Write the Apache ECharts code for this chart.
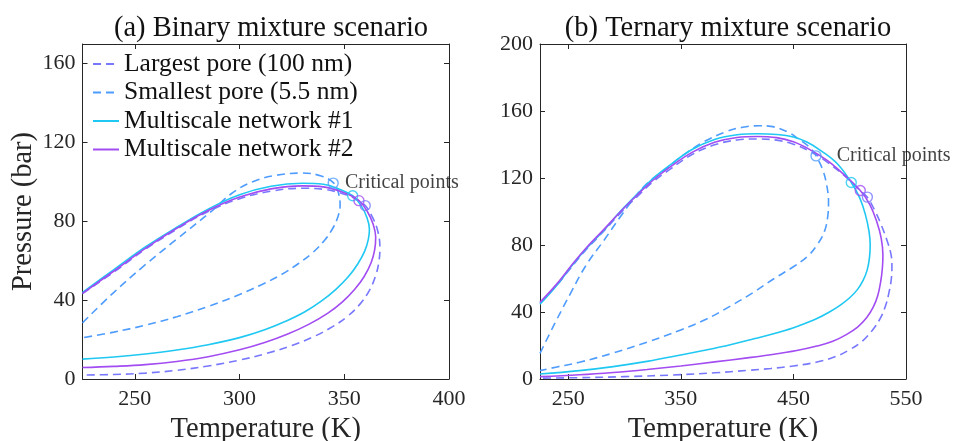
<!DOCTYPE html>
<html><head><meta charset="utf-8">
<script src="https://cdn.jsdelivr.net/npm/echarts@6/dist/echarts.min.js"></script>
<style>html,body{margin:0;padding:0;background:#fff}#c{width:959px;height:441px}</style>
</head><body><div id="c"></div>
<script>
// ---- Data (Temperature K, Pressure bar) ----
const seriesNames = ['Largest pore (100 nm)', 'Smallest pore (5.5 nm)', 'Multiscale network #1', 'Multiscale network #2'];
const titles = ['(a) Binary mixture scenario', '(b) Ternary mixture scenario'];
const xName = 'Temperature (K)';
const yName = 'Pressure (bar)';
const critLabel = 'Critical points';

const binaryXTicks = [250, 300, 350, 400];
const binaryYTicks = [0, 40, 80, 120, 160];
const ternaryXTicks = [250, 350, 450, 550];
const ternaryYTicks = [0, 40, 80, 120, 160, 200];

const binaryLargest = [[225,43.3],[240,54.3],[255,65.8],[270,76],[285,85],[300,91.5],[315,95.3],[330,96.8],[340,96.3],[350,93.8],[356,91],[360,88],[363.5,82],[366,75],[367,67],[366.6,60],[365,52.5],[362,45],[357.5,38],[351.5,31.8],[344,26.3],[335,21.3],[325,17],[313,13],[300,9.6],[285,6.6],[270,4.4],[255,3],[240,2.3],[225,2]];
const binarySmallest = [[225,28.5],[240,44],[255,58],[270,71],[287,85.5],[296,94],[306,100],[317,103.3],[330,104.5],[339,103],[345,99.4],[347.3,94],[348,88],[347,82.5],[344.5,76.5],[340.5,70.3],[335,64.2],[328,58.5],[320,53],[310,47.6],[298,42],[285,36.8],[270,31.6],[255,27.3],[240,23.8],[225,20.9]];
const binaryMS1 = [[225,44],[240,55.5],[255,67],[270,77],[285,86.2],[300,93.5],[315,97.8],[330,99.3],[340,98.8],[348,96.2],[354,93],[358,88],[360.8,82],[362,76],[361.5,71],[359.8,65],[356.5,58.5],[352,52],[346,45.5],[339,39.5],[331,34],[322,29.3],[312,25],[300,21],[285,17.4],[270,14.7],[255,12.7],[240,11.2],[225,10.1]];
const binaryMS2 = [[225,43.5],[240,54.8],[255,66.3],[270,76.5],[285,85.5],[300,92.3],[315,96.5],[330,98],[340,97.5],[350,94.5],[357,90.5],[361,85],[363.8,78.5],[365,72],[364.5,65.5],[362.8,59],[359.5,52],[355,45.5],[349,39],[342,33.3],[333,27.7],[323,22.8],[312,18.5],[300,14.8],[285,11.3],[270,8.9],[255,7.3],[240,6.4],[225,5.8]];
const binaryCritical = [[344.7,99.4],[354,93],[357,90.5],[360,88]];

const ternaryLargest = [[225,45.3],[240,56],[252,66],[265,76.5],[282,88.5],[297,99.5],[311.5,109],[325,117.5],[340,125],[360,134],[380,139.8],[400,142.7],[418,143.3],[435,142.6],[450,140.2],[465,135.8],[480,129.5],[495,121.5],[507,114],[515.5,108.6],[522,101],[528,92],[533,83],[536.5,75],[537.5,68],[537,60],[535,52],[532,44],[527,36],[520,29],[511,22.5],[500,17.5],[488,13.5],[470,10],[450,7.8],[430,6.3],[409,5.1],[380,3.7],[350,2.6],[300,1.4],[260,0.8],[225,0.5]];
const ternarySmallest = [[225,15.3],[238,33],[252,51],[266,68],[282,83],[297,97.5],[311.5,110.5],[323,118.5],[335,124.5],[344,129.5],[352,133.5],[370,141.5],[391,147.8],[405,150.3],[420,151.2],[430,150.8],[445,147.5],[453,144],[465,138],[470.1,133.2],[476,125],[479.5,116],[481.2,106],[480.5,97],[477.5,88],[471,80],[463,73.5],[450,67],[433,60],[414,51.5],[394,43.5],[372,35.5],[350,29.3],[320,22],[290,15.5],[260,10],[240,7.2],[225,5]];
const ternaryMS1 = [[225,44.6],[240,56],[252,66.5],[265,77],[282,89],[297,100.5],[311.5,110.5],[325,119.5],[340,127.5],[360,137],[380,143],[400,145.8],[418,146.4],[435,146],[450,144.5],[462,141.5],[474,136.5],[489,128.5],[501.4,117.3],[509,108],[514,98],[517.2,88],[518.2,80],[517.5,72],[515.5,65],[512,59],[507,53.5],[500,48.5],[492,44.3],[482,40],[470,35.8],[455,31.8],[438,28],[415,24],[394,20.5],[370,17],[350,14.3],[320,10.5],[290,7.4],[260,5],[225,3]];
const ternaryMS2 = [[225,45.8],[240,56.8],[252,67],[265,77.5],[282,89.5],[297,100.3],[311.5,110],[325,118.5],[340,126.3],[360,135.3],[380,141.3],[400,144.2],[418,144.8],[435,144.1],[450,141.6],[465,136.8],[480,130.5],[495,122],[509.4,112.5],[518,104],[524,94],[528,84],[529.5,74],[529,66],[527.5,58],[525,50],[521,43],[515,36.5],[507,31],[497,26.5],[485,22.5],[470,19.5],[453,17],[430,14.5],[409,12.6],[380,10.2],[350,7.8],[320,5.7],[290,3.9],[260,2.5],[225,1.4]];
const ternaryCritical = [[470.1,133.2],[501.4,117.3],[509.4,112.5],[515.7,108.6]];

// ---- Styles ----
const colors = ['#7878ff', '#4f9cff', '#1fc8f2', '#a24cf2'];
const dashed = [true, true, false, false];
const serif = 'Liberation Serif';
const ink = '#262626';

const chart = echarts.init(document.getElementById('c'), null, {renderer: 'canvas'});

function xAxes(gi, min, max, ticks, withName) {
  const base = {
    type: 'value', gridIndex: gi, min: min, max: max,
    splitLine: {show: false},
    axisLine: {show: true, onZero: false, lineStyle: {color: ink, width: 1}},
    axisTick: {show: true, inside: true, length: 5, customValues: ticks, lineStyle: {color: ink}}
  };
  return [
    Object.assign({}, base, {
      position: 'bottom',
      axisLabel: {show: true, customValues: ticks, margin: 9, fontFamily: serif, fontSize: 22, color: ink},
      name: withName ? xName : '', nameLocation: 'middle', nameGap: 34,
      nameTextStyle: {fontFamily: serif, fontSize: 28.5, color: ink}
    }),
    Object.assign({}, base, {position: 'top', axisLabel: {show: false}})
  ];
}
function yAxes(gi, min, max, ticks, withName) {
  const base = {
    type: 'value', gridIndex: gi, min: min, max: max,
    splitLine: {show: false},
    axisLine: {show: true, onZero: false, lineStyle: {color: ink, width: 1}},
    axisTick: {show: true, inside: true, length: 5, customValues: ticks, lineStyle: {color: ink}}
  };
  return [
    Object.assign({}, base, {
      position: 'left',
      axisLabel: {show: true, customValues: ticks, margin: 7, fontFamily: serif, fontSize: 22, color: ink},
      name: withName ? yName : '', nameLocation: 'middle', nameGap: 44, nameRotate: 90,
      nameTextStyle: {fontFamily: serif, fontSize: 28.5, color: ink}
    }),
    Object.assign({}, base, {position: 'right', axisLabel: {show: false}})
  ];
}

function lineSeries(name, data, idx, xi, yi) {
  return {
    type: 'line', name: name, data: data, xAxisIndex: xi, yAxisIndex: yi,
    symbol: 'none', showSymbol: false, smooth: 0.4, z: 3 + idx,
    lineStyle: {color: colors[idx], width: 1.6, type: dashed[idx] ? [8, 5] : 'solid'},
    itemStyle: {color: colors[idx]}
  };
}
function critSeries(data, xi, yi, dist) {
  return {
    type: 'scatter', name: 'crit', data: data.map((d, i) => ({
      value: d,
      itemStyle: {color: 'rgba(255,255,255,0)', borderColor: colors[[1, 2, 3, 0][i]], borderWidth: 1.4},
      label: i === 0 ? {show: true, position: 'right', distance: dist, formatter: critLabel,
        fontFamily: serif, fontSize: 20, color: '#111'} : {show: false}
    })),
    xAxisIndex: xi, yAxisIndex: yi, symbol: 'circle', symbolSize: 10, z: 10
  };
}

const binarySets = [binaryLargest, binarySmallest, binaryMS1, binaryMS2];
const ternarySets = [ternaryLargest, ternarySmallest, ternaryMS1, ternaryMS2];

const series = [];
binarySets.forEach((d, i) => series.push(lineSeries(seriesNames[i], d, i, 0, 0)));
series.push(critSeries(binaryCritical, 0, 0, 6));
ternarySets.forEach((d, i) => series.push(lineSeries(seriesNames[i], d, i, 2, 2)));
series.push(critSeries(ternaryCritical, 2, 2, 15));

chart.setOption({
  animation: false,
  backgroundColor: '#ffffff',
  title: [
    {text: titles[0], left: 266, top: 9, textAlign: 'center',
     textStyle: {fontFamily: serif, fontSize: 28.5, fontWeight: 'normal', color: '#111'}},
    {text: titles[1], left: 723, top: 9, textAlign: 'center',
     textStyle: {fontFamily: serif, fontSize: 28.5, fontWeight: 'normal', color: '#111'}}
  ],
  legend: {
    data: seriesNames, orient: 'vertical', left: 87, top: 46,
    itemWidth: 26, itemHeight: 14, itemGap: 2.5,
    itemStyle: {opacity: 0},
    textStyle: {fontFamily: serif, fontSize: 25.5, color: '#111', lineHeight: 24}
  },
  grid: [
    {left: 82.5, right: 510, top: 44, bottom: 62, outerBoundsMode: 'none', containLabel: false},
    {left: 540, right: 53, top: 44, bottom: 62, outerBoundsMode: 'none', containLabel: false}
  ],
  xAxis: [].concat(xAxes(0, 225, 400, binaryXTicks, true), xAxes(1, 225, 550, ternaryXTicks, true)),
  yAxis: [].concat(yAxes(0, 0, 170, binaryYTicks, true), yAxes(1, 0, 200, ternaryYTicks, false)),
  series: series
});
</script></body></html>
